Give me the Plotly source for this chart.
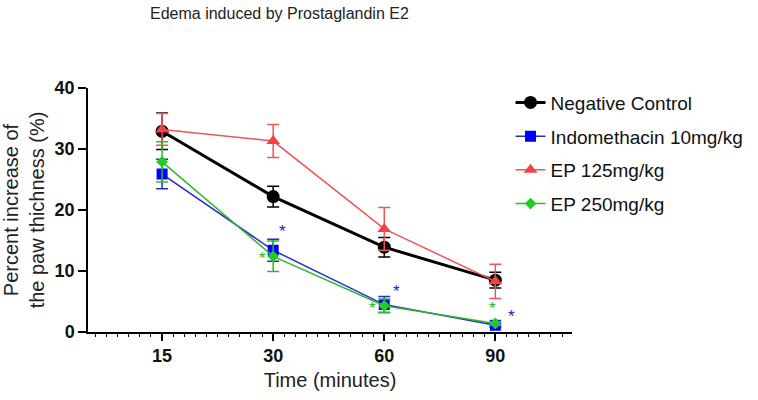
import plotly.graph_objects as go

times = ["15", "30", "60", "90"]
xpos = [0, 1, 2, 3]

neg_mean = [32.9, 22.2, 13.9, 8.5]
neg_err = [3.0, 1.7, 1.6, 1.3]

indo_mean = [25.9, 13.4, 4.5, 1.1]
indo_err = [2.4, 1.8, 1.3, 0.3]

ep125_mean = [33.2, 31.3, 16.9, 8.3]
ep125_err = [2.6, 2.7, 3.5, 2.8]

ep250_mean = [27.9, 12.4, 4.3, 1.4]
ep250_err = [3.3, 2.5, 1.1, 0.3]

yticks = [0, 10, 20, 30, 40]

# significance asterisks: (x position, y value, colour, pixel shift)
star_x = [1, 1, 2, 2, 3, 3]
star_y = [16.4, 12.0, 6.6, 3.8, 3.8, 2.5]
star_col = ["#1a1ad0", "#22bb22", "#1a1ad0", "#22bb22", "#22bb22", "#1a1ad0"]
star_shift = [9, -11, 12, -12, -3, 16]

series = [
    ("Negative Control", neg_mean, neg_err, "black", "black", "circle", 13, 3),
    ("Indomethacin 10mg/kg", indo_mean, indo_err, "#2a2ad0", "#0000ff", "square", 11, 1.5),
    ("EP 125mg/kg", ep125_mean, ep125_err, "#ee5555", "#f04444", "triangle-up", 12, 1.5),
    ("EP 250mg/kg", ep250_mean, ep250_err, "#2eb82e", "#22cc22", "diamond", 9, 1.5),
]

fig = go.Figure()
for i, (name, m, e, lc, mc, sym, ms, lw) in enumerate(series):
    fig.add_trace(go.Scatter(
        x=xpos, y=m, name=name, mode="lines+markers", legendgroup=f"g{i}",
        line=dict(color=lc, width=lw),
        marker=dict(color=mc, symbol=sym, size=ms),
        error_y=dict(type="data", array=e, visible=True, color=lc,
                     thickness=1.5, width=6),
    ))

for sx, sy, sc, sh in zip(star_x, star_y, star_col, star_shift):
    fig.add_annotation(x=sx, y=sy, text="*", showarrow=False, xshift=sh,
                       font=dict(size=17, color=sc, family="Arial"))

fig.update_layout(
    width=758, height=400,
    margin=dict(l=88, r=186, t=88, b=68, autoexpand=False),
    paper_bgcolor="white", plot_bgcolor="white",
    font=dict(family="Liberation Sans, Arial", color="#222"),
    title=dict(text="Edema induced by Prostaglandin E2", x=150/758, xanchor="left",
               y=1 - 13/400, yanchor="middle", font=dict(size=16, color="#222")),
    legend=dict(x=0.873, y=1.018, xanchor="left", yanchor="top",
                font=dict(size=19, color="#111"), bgcolor="rgba(0,0,0,0)",
                itemwidth=30, tracegroupgap=6),
    showlegend=True,
)
fig.update_xaxes(
    range=[-0.667, 3.69], tickmode="array", tickvals=xpos,
    ticktext=[f"<b>{t}</b>" for t in times],
    showline=True, linecolor="black", linewidth=1.5, showgrid=False, zeroline=False,
    ticks="outside", ticklen=7, tickwidth=1.5, tickcolor="black",
    tickfont=dict(size=18, color="#111"),
    minor=dict(dtick=0.1, ticks="outside", ticklen=3, tickcolor="black", tickwidth=1),
    title=dict(text="Time (minutes)", font=dict(size=20, color="#222"), standoff=8),
)
fig.update_yaxes(
    range=[0, 40], tickmode="array", tickvals=yticks,
    ticktext=[f"<b>{v}</b>" for v in yticks],
    showline=True, linecolor="black", linewidth=1.5, showgrid=False, zeroline=False,
    ticks="outside", ticklen=8, tickwidth=1.5, tickcolor="black",
    tickfont=dict(size=18, color="#111"),
    title=dict(text="Percent increase of<br>the paw thichness (%)",
               font=dict(size=20, color="#222"), standoff=8),
)

fig.write_html("out.html")
